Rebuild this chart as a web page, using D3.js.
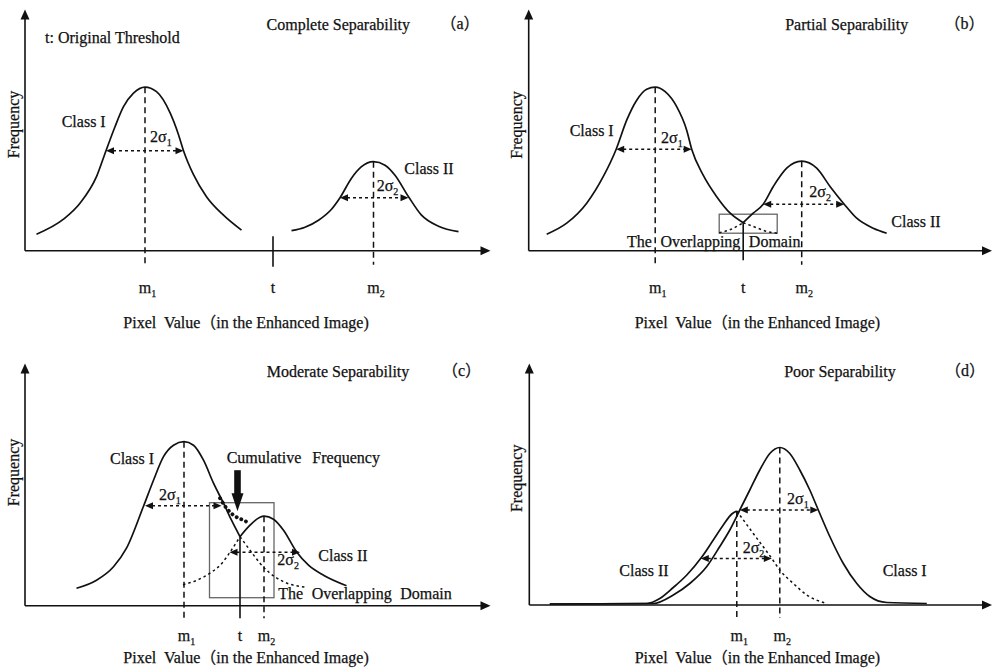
<!DOCTYPE html>
<html>
<head>
<meta charset="utf-8">
<script src="https://cdn.jsdelivr.net/npm/d3@7"></script>
<style>
  body { margin: 0; background: #fff; }
  text { font-family: "Liberation Serif", "Times New Roman", "Noto Sans CJK SC", serif; fill: #111; stroke: #111; stroke-width: 0.25; font-size: 16px; }
  .cjk { font-family: "Noto Sans CJK SC", sans-serif; }
</style>
</head>
<body>
<svg id="chart" width="994" height="671"></svg>
<script>
// curves: [pixel value, frequency] in arbitrary units (1 unit ~ 5px)
const classI_a = [[2.3,3.3],[7.7,6.3],[11.0,9.5],[14.3,14.8],[16.2,20.0],[18.0,24.8],[19.7,28.8],[21.7,31.5],[24.0,32.7],[26.3,31.8],[29.0,27.6],[30.7,23.2],[31.7,20.0],[33.7,15.2],[36.3,10.8],[39.7,7.1],[43.3,4.1]];
const classII_a = [[53.3,4.0],[56.0,4.7],[58.7,6.1],[61.3,8.3],[63.0,10.6],[65.3,14.5],[67.3,16.8],[69.7,17.8],[72.0,17.1],[74.0,15.1],[76.7,10.8],[79.3,7.1],[82.7,4.9],[86.7,3.8]];

const classI_b = [[3.6,3.3],[7.6,5.5],[11.6,9.5],[14.9,14.8],[17.5,20.3],[19.6,26.1],[21.6,30.1],[23.6,32.3],[25.3,32.7],[27.3,31.8],[29.6,28.8],[31.6,24.1],[32.6,20.3],[34.9,15.1],[37.6,10.8],[40.3,7.5],[42.9,5.6]];
const classII_b = [[42.9,5.6],[44.9,7.5],[46.9,9.3],[48.9,12.8],[51.6,16.5],[54.6,17.9],[57.6,16.5],[60.3,12.8],[63.1,9.3],[65.6,6.5],[68.9,4.5],[71.6,3.5]];
const tailII_b = [[38.1,3.6],[40.5,4.3],[42.9,5.6]];
const tailI_b = [[42.9,5.6],[45.3,4.7],[47.5,3.9],[49.7,3.5]];

const classI_c = [[10.3,3.5],[14.3,5.1],[17.7,7.8],[20.3,11.5],[23.7,19.9],[25.7,25.1],[27.7,29.8],[29.7,32.1],[31.8,32.8],[33.7,32.1],[35.7,29.1],[37.7,24.5],[39.7,20.5],[41.3,17.1],[43.0,13.8]];
const classII_c = [[43.0,13.8],[45.0,16.1],[47.0,17.7],[47.8,17.9],[49.7,17.3],[51.7,15.1],[54.3,10.8],[56.7,8.1],[59.7,6.1],[64.3,4.0]];
const tailI_c = [[43.0,13.8],[45.0,11.1],[47.0,8.5],[49.0,6.5],[51.7,4.8],[56.0,3.7]];
const tailII_c = [[31.6,4.2],[34.4,5.1],[37.0,6.5],[39.4,8.5],[41.0,10.7],[43.0,13.8]];
const cumulative_c = [[39.0,21.5],[40.3,19.5],[41.7,18.1],[43.7,17.1],[44.7,16.6]];

const classI_d = [[4.1,0.2],[24.8,0.3],[28.8,2.0],[32.1,4.3],[35.5,7.7],[38.1,11.7],[40.1,15.0],[42.1,19.0],[44.1,23.0],[46.1,27.0],[48.1,30.3],[50.1,31.5],[52.1,30.3],[54.1,27.0],[56.1,23.0],[57.8,19.0],[60.1,13.7],[62.8,8.3],[65.5,4.3],[68.1,1.7],[71.5,0.5],[79.5,0.3]];
const classII_d = [[4.1,0.2],[23.5,0.3],[26.1,1.3],[28.8,3.5],[31.5,6.0],[34.5,9.6],[36.8,13.0],[38.8,16.0],[40.5,18.2],[41.5,18.8]];
const tailII_d = [[41.5,18.8],[44.8,14.3],[48.5,9.3],[50.1,7.0],[52.8,4.3],[55.5,2.0],[59.5,0.3]];

// 2 sigma arrows: [left, right, level]
const sigma_a = [[16.2,31.7,20.0],[63.0,76.7,10.6]];
const sigma_b = [[17.5,32.6,20.3],[46.9,63.1,9.3]];
const sigma_c = [[24.0,39.3,20.0],[40.9,55.0,10.7]];
const sigma_d = [[42.1,57.8,19.0],[34.3,48.5,9.3]];

// threshold t: [position, top of line]
const threshold_a = [49.6, 2.9];
const threshold_b = [42.9, 5.6];
const threshold_c = [43.0, 13.8];

// overlapping domain boxes: [x0, x1, y0, y1]
const box_b = [38.1, 49.7, 3.5, 7.3];
const box_c = [36.9, 49.8, 1.6, 20.6];
const cumArrow_c = [42.5, 27.1, 18.9];

const panelTitles = ["Complete Separability", "Partial Separability", "Moderate Separability", "Poor Separability"];
const panelTags = ["a", "b", "c", "d"];
const tickNames = ["m_1", "t", "m_2"];
const xLabel = ["Pixel  Value", "（", "in the Enhanced Image)"];
const yLabel = "Frequency";

const panels = [
  { curves: [[classI_a,"solid"],[classII_a,"solid"]], means: [classI_a, classII_a], sigma: sigma_a, t: threshold_a, box: null },
  { curves: [[classI_b,"solid"],[classII_b,"solid"],[tailII_b,"dot"],[tailI_b,"dot"]], means: [classI_b, classII_b], sigma: sigma_b, t: threshold_b, box: box_b },
  { curves: [[classI_c,"solid"],[classII_c,"solid"],[tailI_c,"dot"],[tailII_c,"dot"],[cumulative_c,"bold"]], means: [classI_c, classII_c], sigma: sigma_c, t: threshold_c, box: box_c, bigArrow: cumArrow_c },
  { curves: [[classI_d,"solid"],[classII_d,"solid"],[tailII_d,"dot"]], means: [classII_d, classI_d], sigma: sigma_d, t: null, box: null }
];

const layout = [
  {ox: 25,    oy: 250.7, xEnd: 490.5, yTop: 9.5,   dropM: 14,   dropT: 16,   tickY: 293.3, xLabX: 123.3, xLabY: 328.3, yLabX: 18.5,  yLabY: 124.5, titleX: 338.3, titleY: 30,    tagX: 460,   tagY: 29},
  {ox: 528.7, oy: 250.7, xEnd: 992,   yTop: 9.5,   dropM: 14,   dropT: 9.5,  tickY: 293.3, xLabX: 634.7, xLabY: 328.3, yLabX: 521.5, yLabY: 125,   titleX: 846.7, titleY: 29.5,  tagX: 964.5, tagY: 29},
  {ox: 25,    oy: 605.7, xEnd: 490.5, yTop: 363.5, dropM: 12.6, dropT: 12.6, tickY: 640.7, xLabX: 123.3, xLabY: 663.3, yLabX: 18.5,  yLabY: 472.5, titleX: 338,   titleY: 377.3, tagX: 461.5, tagY: 375.5},
  {ox: 529.3, oy: 605,   xEnd: 992,   yTop: 363.5, dropM: 13,   dropT: 0,    tickY: 640.7, xLabX: 634.7, xLabY: 663.3, yLabX: 521.5, yLabY: 478.3, titleX: 840,   titleY: 377.3, tagX: 965,   tagY: 375.5}
];

const notes = [
  {p:0, t:"t: Original Threshold", x:45, y:43.3},
  {p:0, t:"Class I", x:61.7, y:127.3},
  {p:0, t:"2σ_1", x:150, y:141.7},
  {p:0, t:"Class II", x:404.3, y:174},
  {p:0, t:"2σ_2", x:376.7, y:190.7},
  {p:1, t:"Class I", x:569.7, y:136},
  {p:1, t:"2σ_1", x:661, y:142.7},
  {p:1, t:"2σ_2", x:809.3, y:197.3},
  {p:1, t:"Class II", x:891.3, y:226.7},
  {p:1, t:"The Overlapping Domain", x:627, y:247.3, ws:4.5},
  {p:2, t:"Class I", x:110, y:464.3},
  {p:2, t:"Cumulative Frequency", x:226.7, y:462.7, ws:7},
  {p:2, t:"2σ_1", x:159, y:500},
  {p:2, t:"2σ_2", x:277.3, y:565},
  {p:2, t:"Class II", x:318.3, y:561},
  {p:2, t:"The Overlapping Domain", x:278.3, y:599.3, ws:4.5},
  {p:3, t:"2σ_1", x:787, y:504.3},
  {p:3, t:"2σ_2", x:742.7, y:553.3},
  {p:3, t:"Class II", x:619.3, y:575.7},
  {p:3, t:"Class I", x:882.7, y:575.7}
];

const svg = d3.select("#chart");

function richText(sel, s) {
  const parts = s.split("_");
  sel.append("tspan").text(parts[0]);
  if (parts[1]) sel.append("tspan").attr("font-size", 10).attr("dy", 4).text(parts[1]);
}

function head(g, x, y, dir, len, half) {
  // dir: where the tip points
  let pts;
  if (dir === "r") pts = [[x, y], [x - len, y - half], [x - len, y + half]];
  if (dir === "l") pts = [[x, y], [x + len, y - half], [x + len, y + half]];
  if (dir === "u") pts = [[x, y], [x - half, y + len], [x + half, y + len]];
  if (dir === "d") pts = [[x, y], [x - half, y - len], [x + half, y - len]];
  g.append("path").attr("d", "M" + pts.join("L") + "Z").attr("fill", "#111");
}

panels.forEach((p, i) => {
  const L = layout[i];
  const x = d3.scaleLinear().domain([0, 93]).range([L.ox, L.ox + 465]);
  const y = d3.scaleLinear().domain([0, 48]).range([L.oy, L.oy - 240]);
  const g = svg.append("g");

  // axes
  g.append("line").attr("x1", L.ox).attr("y1", L.oy).attr("x2", L.xEnd - 8).attr("y2", L.oy)
    .attr("stroke", "#111").attr("stroke-width", 1.6);
  g.append("line").attr("x1", L.ox).attr("y1", L.oy).attr("x2", L.ox).attr("y2", L.yTop + 8)
    .attr("stroke", "#111").attr("stroke-width", 1.6);
  head(g, L.xEnd, L.oy, "r", 10, 4.5);
  head(g, L.ox, L.yTop, "u", 10, 4.5);

  // overlapping domain box
  if (p.box) {
    g.append("rect")
      .attr("x", x(p.box[0])).attr("y", y(p.box[3]))
      .attr("width", x(p.box[1]) - x(p.box[0])).attr("height", y(p.box[2]) - y(p.box[3]))
      .attr("fill", "none").attr("stroke", "#666").attr("stroke-width", 1.3);
  }

  // curves
  const line = d3.line().x(d => x(d[0])).y(d => y(d[1])).curve(d3.curveMonotoneX);
  p.curves.forEach(([pts, style]) => {
    const path = g.append("path").attr("d", line(pts)).attr("fill", "none").attr("stroke", "#111");
    if (style === "solid") path.attr("stroke-width", 1.7);
    if (style === "dot") path.attr("stroke-width", 1.5).attr("stroke-dasharray", "2.5,3");
    if (style === "bold") path.attr("stroke-width", 3.8).attr("stroke-dasharray", "0.1,5").attr("stroke-linecap", "round");
  });

  // means: dashed lines from the peaks
  const meanX = [];
  p.means.forEach(c => {
    const pk = c[d3.maxIndex(c, d => d[1])];
    meanX.push(pk[0]);
    g.append("line").attr("x1", x(pk[0])).attr("x2", x(pk[0]))
      .attr("y1", y(pk[1])).attr("y2", L.oy + L.dropM)
      .attr("stroke", "#111").attr("stroke-width", 1.5).attr("stroke-dasharray", "6,4");
  });

  // threshold line
  if (p.t) {
    g.append("line").attr("x1", x(p.t[0])).attr("x2", x(p.t[0]))
      .attr("y1", y(p.t[1])).attr("y2", L.oy + L.dropT)
      .attr("stroke", "#111").attr("stroke-width", 1.6);
  }

  // 2 sigma arrows
  p.sigma.forEach(([a, b, lv]) => {
    g.append("line").attr("x1", x(a) + 7).attr("x2", x(b) - 7).attr("y1", y(lv)).attr("y2", y(lv))
      .attr("stroke", "#111").attr("stroke-width", 1.5).attr("stroke-dasharray", "3,3");
    head(g, x(a), y(lv), "l", 8, 3.5);
    head(g, x(b), y(lv), "r", 8, 3.5);
  });

  // cumulative frequency arrow
  if (p.bigArrow) {
    const [ax, top, tip] = p.bigArrow;
    const neck = y(tip) - 18;
    g.append("rect").attr("x", x(ax) - 3.3).attr("y", y(top)).attr("width", 6.6).attr("height", neck - y(top) + 1)
      .attr("fill", "#111");
    head(g, x(ax), y(tip), "d", 18, 6);
  }

  // tick labels under the axis
  const tickX = p.t ? [meanX[0], p.t[0], meanX[1]] : [meanX[0], null, meanX[1]];
  tickNames.forEach((nm, k) => {
    if (tickX[k] === null) return;
    const tx = g.append("text").attr("y", L.tickY);
    if (nm === "t") tx.attr("x", x(tickX[k])).attr("text-anchor", "middle");
    else tx.attr("x", x(tickX[k]) - 6.2);
    richText(tx, nm);
  });

  // titles and axis labels
  g.append("text").attr("x", L.titleX).attr("y", L.titleY).attr("text-anchor", "middle").text(panelTitles[i]);
  const tag = g.append("text").attr("x", L.tagX).attr("y", L.tagY).attr("text-anchor", "middle").attr("font-size", 18);
  tag.append("tspan").attr("class", "cjk").text("（");
  tag.append("tspan").text(panelTags[i]);
  tag.append("tspan").attr("class", "cjk").text("）");

  const xl = g.append("text").attr("x", L.xLabX).attr("y", L.xLabY)
    .attr("xml:space", "preserve").style("white-space", "pre");
  xl.append("tspan").text(xLabel[0]);
  xl.append("tspan").attr("class", "cjk").text(xLabel[1]);
  xl.append("tspan").text(xLabel[2]);

  g.append("text").attr("transform", `translate(${L.yLabX},${L.yLabY}) rotate(-90)`)
    .attr("text-anchor", "middle").text(yLabel);
});

notes.forEach(n => {
  const tx = svg.append("text").attr("x", n.x).attr("y", n.y);
  if (n.ws) tx.attr("word-spacing", n.ws);
  richText(tx, n.t);
});
</script>
</body>
</html>
